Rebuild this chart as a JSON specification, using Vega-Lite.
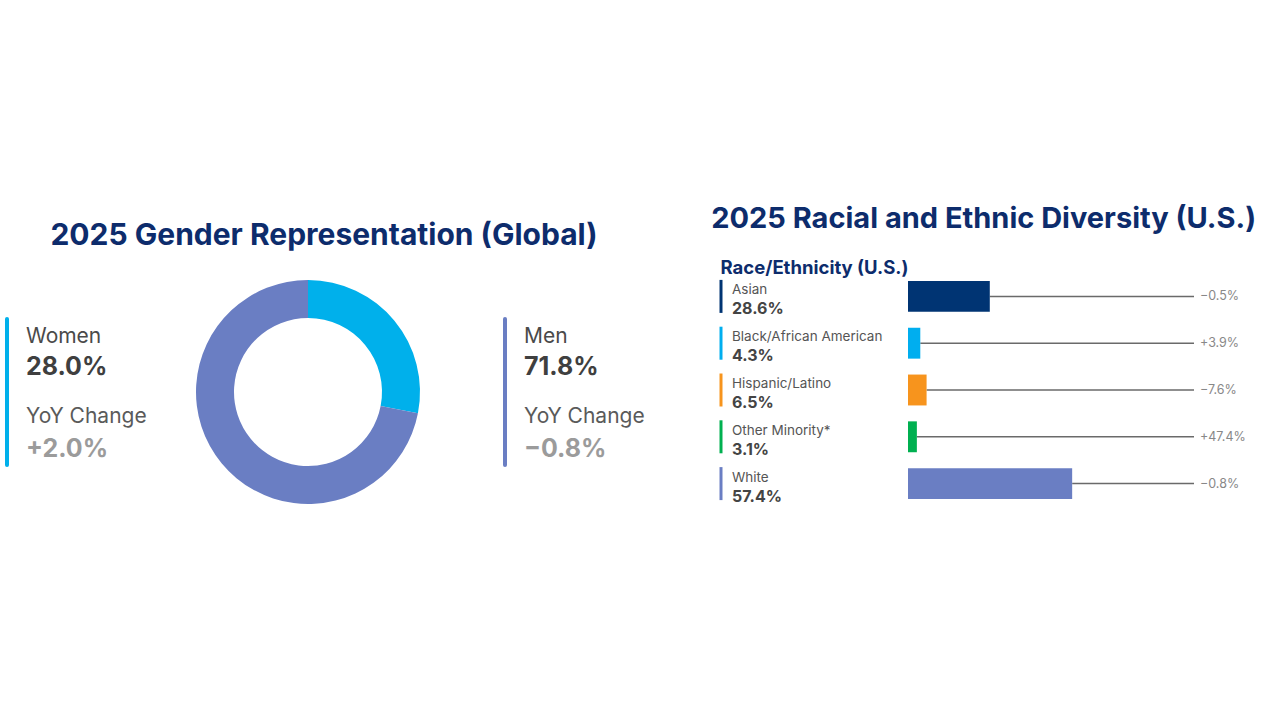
{
  "$schema": "https://vega.github.io/schema/vega-lite/v6.json",
  "background": "white",
  "padding": {"left": 0, "top": 204, "right": 0, "bottom": 0},
  "bounds": "flush",
  "spacing": 105,
  "resolve": {"scale": {"color": "independent"}},
  "datasets": {
    "gender": [
      {"gender": "Women", "share": 28.0, "yoy": 2.0},
      {"gender": "Men", "share": 71.8, "yoy": -0.8}
    ],
    "race": [
      {"race": "Asian", "share": 28.6, "yoy": -0.5},
      {"race": "Black/African American", "share": 4.3, "yoy": 3.9},
      {"race": "Hispanic/Latino", "share": 6.5, "yoy": -7.6},
      {"race": "Other Minority*", "share": 3.1, "yoy": 47.4},
      {"race": "White", "share": 57.4, "yoy": -0.8}
    ]
  },
  "config": {
    "view": {"stroke": null},
    "font": "Inter",
    "title": {"font": "Inter", "fontWeight": 700, "color": "#0d2c6c", "fontSize": 29},
    "text": {"font": "Inter"}
  },
  "hconcat": [
    {
      "title": {"text": "2025 Gender Representation (Global)", "anchor": "middle", "baseline": "alphabetic", "fontSize": 30, "offset": -2, "dx": 16},
      "width": 616,
      "height": 238,
      "data": {"name": "gender"},
      "transform": [
        {"calculate": "format(datum.share, '.1f') + '%'", "as": "shareLabel"},
        {"calculate": "format(datum.yoy, '+.1f') + '%'", "as": "yoyLabel"}
      ],
      "layer": [
        {
          "mark": {"type": "arc", "outerRadius": 112, "innerRadius": 74},
          "encoding": {
            "theta": {"field": "share", "type": "quantitative", "stack": true},
            "color": {"field": "gender", "type": "nominal", "scale": {"domain": ["Women", "Men"], "range": ["#00b0eb", "#6a7ec3"]}, "legend": null},
            "order": {"field": "gender", "sort": "descending"}
          }
        },
        {
          "mark": {"type": "rule", "strokeWidth": 4, "strokeCap": "round"},
          "encoding": {
            "x": {"field": "gender", "type": "nominal", "scale": {"type": "point", "domain": ["Women", "Men"], "range": [7, 505], "padding": 0}, "axis": null},
            "y": {"datum": "top", "type": "nominal", "scale": {"type": "point", "domain": ["top", "name", "share", "yoyHead", "yoy", "bottom"], "range": [46, 192], "padding": 0}, "axis": null},
            "y2": {"datum": "bottom"},
            "color": {"field": "gender", "type": "nominal", "legend": null}
          }
        },
        {
          "mark": {"type": "text", "align": "left", "baseline": "alphabetic", "dx": 19, "dy": -5, "fontSize": 21, "color": "#4a4a4a"},
          "encoding": {
            "x": {"field": "gender", "type": "nominal"},
            "y": {"datum": "name", "type": "nominal"},
            "text": {"field": "gender"}
          }
        },
        {
          "mark": {"type": "text", "align": "left", "baseline": "alphabetic", "dx": 19, "dy": -2, "fontSize": 25, "fontWeight": 700, "color": "#3f3f3f"},
          "encoding": {
            "x": {"field": "gender", "type": "nominal"},
            "y": {"datum": "share", "type": "nominal"},
            "text": {"field": "shareLabel"}
          }
        },
        {
          "mark": {"type": "text", "align": "left", "baseline": "alphabetic", "dx": 19, "dy": 16, "fontSize": 21, "color": "#5a5a5a"},
          "encoding": {
            "x": {"field": "gender", "type": "nominal"},
            "y": {"datum": "yoyHead", "type": "nominal"},
            "text": {"value": "YoY Change"}
          }
        },
        {
          "mark": {"type": "text", "align": "left", "baseline": "alphabetic", "dx": 19, "dy": 21, "fontSize": 25, "fontWeight": 700, "color": "#9b9b9b"},
          "encoding": {
            "x": {"field": "gender", "type": "nominal"},
            "y": {"datum": "yoy", "type": "nominal"},
            "text": {"field": "yoyLabel"}
          }
        }
      ]
    },
    {
      "title": {"text": "2025 Racial and Ethnic Diversity (U.S.)", "anchor": "middle", "baseline": "alphabetic", "fontSize": 29, "offset": 2, "dx": 1},
      "spacing": 0,
      "bounds": "flush",
      "hconcat": [
        {
          "title": {"text": "Race/Ethnicity (U.S.)", "anchor": "start", "baseline": "alphabetic", "fontSize": 18.5, "offset": -19, "dx": 1},
          "width": 187,
          "height": 234,
          "data": {"name": "race"},
          "transform": [
            {"calculate": "format(datum.share, '.1f') + '%'", "as": "shareLabel"}
          ],
          "layer": [
            {
              "mark": {"type": "tick", "thickness": 3, "size": 33, "orient": "vertical", "opacity": 1},
              "encoding": {
                "x": {"datum": 0, "type": "quantitative", "scale": {"domain": [0, 1]}, "axis": null},
                "y": {"field": "race", "type": "nominal", "sort": null, "scale": {"type": "band", "paddingInner": 0.34, "paddingOuter": 0.17}, "axis": null},
                "color": {"field": "race", "type": "nominal", "scale": {"domain": ["Asian", "Black/African American", "Hispanic/Latino", "Other Minority*", "White"], "range": ["#003473", "#00aeef", "#f7941d", "#00b050", "#6a7ec3"]}, "legend": null}
              }
            },
            {
              "mark": {"type": "text", "align": "left", "baseline": "alphabetic", "dx": 11, "dy": -2, "fontSize": 13.5, "color": "#555555"},
              "encoding": {
                "x": {"datum": 0, "type": "quantitative"},
                "y": {"field": "race", "type": "nominal", "sort": null},
                "text": {"field": "race"}
              }
            },
            {
              "mark": {"type": "text", "align": "left", "baseline": "alphabetic", "dx": 11, "dy": 18, "fontSize": 16, "fontWeight": 700, "color": "#444444"},
              "encoding": {
                "x": {"datum": 0, "type": "quantitative"},
                "y": {"field": "race", "type": "nominal", "sort": null},
                "text": {"field": "shareLabel"}
              }
            }
          ]
        },
        {
          "width": 286,
          "height": 234,
          "data": {"name": "race"},
          "transform": [
            {"calculate": "format(datum.yoy, '+.1f') + '%'", "as": "yoyLabel"}
          ],
          "layer": [
            {
              "mark": {"type": "rule", "color": "#6a6a6a", "strokeWidth": 1.5},
              "encoding": {
                "x": {"field": "share", "type": "quantitative", "scale": {"domain": [0, 100], "nice": false}, "axis": null},
                "x2": {"datum": 100},
                "y": {"field": "race", "type": "nominal", "sort": null, "scale": {"type": "band", "paddingInner": 0.34, "paddingOuter": 0.17}, "axis": null}
              }
            },
            {
              "mark": {"type": "bar"},
              "encoding": {
                "x": {"field": "share", "type": "quantitative"},
                "y": {"field": "race", "type": "nominal", "sort": null},
                "color": {"field": "race", "type": "nominal", "scale": {"domain": ["Asian", "Black/African American", "Hispanic/Latino", "Other Minority*", "White"], "range": ["#003473", "#00aeef", "#f7941d", "#00b050", "#6a7ec3"]}, "legend": null}
              }
            },
            {
              "mark": {"type": "text", "align": "left", "baseline": "middle", "dx": 6, "fontSize": 12.5, "color": "#888888"},
              "encoding": {
                "x": {"datum": 100, "type": "quantitative"},
                "y": {"field": "race", "type": "nominal", "sort": null},
                "text": {"field": "yoyLabel"}
              }
            }
          ]
        }
      ]
    }
  ]
}
